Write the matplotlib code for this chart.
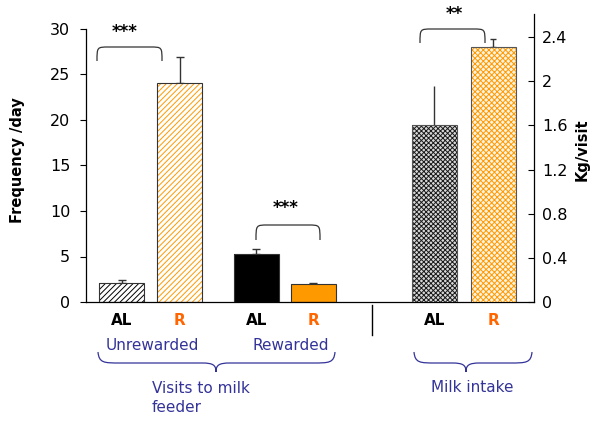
import matplotlib
matplotlib.use("Agg")
import matplotlib.pyplot as plt
from matplotlib.path import Path
from matplotlib.patches import PathPatch

# data
group_labels = ["AL", "R", "AL", "R", "AL", "R"]
freq_means = [2.1, 24.1, 5.3, 2.0]        # visits/day
freq_err = [0.3, 2.8, 0.5, 0.1]
milk_means = [1.60, 2.31]                 # kg/visit
milk_err = [0.36, 0.07]
freq_ticks = [0, 5, 10, 15, 20, 25, 30]
milk_ticks = [0, 0.4, 0.8, 1.2, 1.6, 2, 2.4]
milk_ticklabels = ["0", "0.4", "0.8", "1.2", "1.6", "2", "2.4"]

W, H = 593, 422
ORANGE = "#FF9900"
RED_OR = "#FF6600"
BLUE = "#333399"

plt.rcParams["hatch.linewidth"] = 0.7
fig = plt.figure(figsize=(W / 100, H / 100), dpi=100)
ax = fig.add_axes([85.5 / W, 1 - 302 / H, 448.5 / W, 288 / H])
ax2 = ax.twinx()

xpos = [0.79, 2.05, 3.71, 4.95, 7.58, 8.86]
bw = 0.98

# frequency bars
styles = [
    dict(facecolor="white", edgecolor="black", hatch="//////"),
    dict(facecolor="white", edgecolor=ORANGE, hatch="//////"),
    dict(facecolor="black", edgecolor="black"),
    dict(facecolor=ORANGE, edgecolor=ORANGE),
]
for i in range(4):
    ax.bar(xpos[i], freq_means[i], bw, linewidth=0, **styles[i], zorder=2)
    ax.bar(xpos[i], freq_means[i], bw, fill=False, edgecolor="#333333", linewidth=0.8, zorder=3)
    ax.errorbar(xpos[i], freq_means[i], yerr=[[0], [freq_err[i]]], fmt="none",
                ecolor="#333333", elinewidth=1, capsize=3, zorder=1)

# milk bars
milk_styles = [
    dict(facecolor="#d8d8d8", edgecolor="#1a1a1a", hatch="xxxxxxx"),
    dict(facecolor="#fff3e0", edgecolor=ORANGE, hatch="xxxxxx"),
]
for j in range(2):
    x = xpos[4 + j]
    ax2.bar(x, milk_means[j], bw, linewidth=0, **milk_styles[j], zorder=2)
    ax2.bar(x, milk_means[j], bw, fill=False, edgecolor="#555555", linewidth=0.8, zorder=3)
    ax2.errorbar(x, milk_means[j], yerr=[[0], [milk_err[j]]], fmt="none",
                 ecolor="#333333", elinewidth=1, capsize=2 if j else 0, zorder=1)

ax.set_xlim(0, 448.5 / 46)
ax.set_ylim(0, 288 / 9.1)
ax2.set_ylim(0, 288 / 110.4)

ax.set_yticks(freq_ticks)
ax.set_yticklabels([str(t) for t in freq_ticks], fontsize=11.5)
ax.spines["left"].set_bounds(0, 30)
ax.tick_params(axis="y", direction="out", length=4, width=0.8, pad=7)
ax.set_xticks([])
for s in ["top", "right"]:
    ax.spines[s].set_visible(False)
for s in ["top", "left"]:
    ax2.spines[s].set_visible(False)
ax2.spines["right"].set_linewidth(0.9)
ax.spines["left"].set_linewidth(0.9)
ax.spines["bottom"].set_linewidth(0.9)
ax2.spines["bottom"].set_visible(False)
ax2.set_yticks(milk_ticks)
ax2.set_yticklabels(milk_ticklabels, fontsize=11.5)
ax2.tick_params(axis="y", direction="in", length=4, width=0.8, pad=6)

fig.text(18 / W, 1 - 160 / H, "Frequency /day", rotation=90, fontsize=10.5,
         fontweight="bold", ha="center", va="center")
fig.text(582 / W, 1 - 150 / H, "Kg/visit", rotation=90, fontsize=10.5,
         fontweight="bold", ha="center", va="center")

# group labels under bars
for x, lab in zip(xpos, group_labels):
    ax.text(x, -0.065, lab, transform=ax.get_xaxis_transform(), ha="center", va="center",
            fontsize=11, fontweight="bold", color="black" if lab == "AL" else RED_OR)


def px(x, y):
    return (x / W, 1 - y / H)


def draw_path(pts, codes, color, lw):
    verts = [px(x, y) for x, y in pts]
    fig.add_artist(PathPatch(Path(verts, codes), fill=False, edgecolor=color,
                             linewidth=lw, transform=fig.transFigure))


def bracket(x0, x1, ytop, ybot):
    r = 12
    pts = [(x0, ybot), (x0, ytop), (x0, ytop), (x0 + r, ytop),
           (x1 - r, ytop), (x1, ytop), (x1, ytop), (x1, ybot)]
    codes = [Path.MOVETO, Path.CURVE4, Path.CURVE4, Path.CURVE4,
             Path.LINETO, Path.CURVE4, Path.CURVE4, Path.CURVE4]
    draw_path(pts, codes, "#333333", 0.9)


def brace(x0, x1, xm, ytop, ybot):
    ymid = ytop + (ybot - ytop) * 0.55
    pts = [(x0, ytop),
           (x0 + 1, ymid), (x0 + 6, ymid), (x0 + 22, ymid),
           (xm - 14, ymid),
           (xm - 3, ymid), (xm, ymid + 2), (xm, ybot),
           (xm, ymid + 2), (xm + 3, ymid), (xm + 14, ymid),
           (x1 - 22, ymid),
           (x1 - 6, ymid), (x1 - 1, ymid), (x1, ytop)]
    codes = [Path.MOVETO,
             Path.CURVE4, Path.CURVE4, Path.CURVE4,
             Path.LINETO,
             Path.CURVE4, Path.CURVE4, Path.CURVE4,
             Path.CURVE4, Path.CURVE4, Path.CURVE4,
             Path.LINETO,
             Path.CURVE4, Path.CURVE4, Path.CURVE4]
    draw_path(pts, codes, BLUE, 0.9)


bracket(97, 162, 47, 61)
bracket(256, 320, 225, 240)
bracket(420, 485, 29, 43)
fig.text(*px(125, 32), "***", fontsize=12, fontweight="bold", ha="center", va="center")
fig.text(*px(286, 208), "***", fontsize=12, fontweight="bold", ha="center", va="center")
fig.text(*px(454, 14), "**", fontsize=12, fontweight="bold", ha="center", va="center")

# separator
fig.add_artist(plt.Line2D([372 / W, 372 / W], [1 - 305 / H, 1 - 335 / H],
                          color="black", linewidth=1, transform=fig.transFigure))

# category captions
fig.text(*px(152, 345), "Unrewarded", fontsize=11, color=BLUE, ha="center", va="center")
fig.text(*px(291, 345), "Rewarded", fontsize=11, color=BLUE, ha="center", va="center")
brace(98, 335, 216, 352, 372)
brace(414, 532, 466, 352, 372)
fig.text(*px(152, 398), "Visits to milk\nfeeder", fontsize=11, color=BLUE,
         ha="left", va="center", linespacing=1.3)
fig.text(*px(472, 388), "Milk intake", fontsize=11, color=BLUE, ha="center", va="center")

fig.savefig("out.png", dpi=100)
